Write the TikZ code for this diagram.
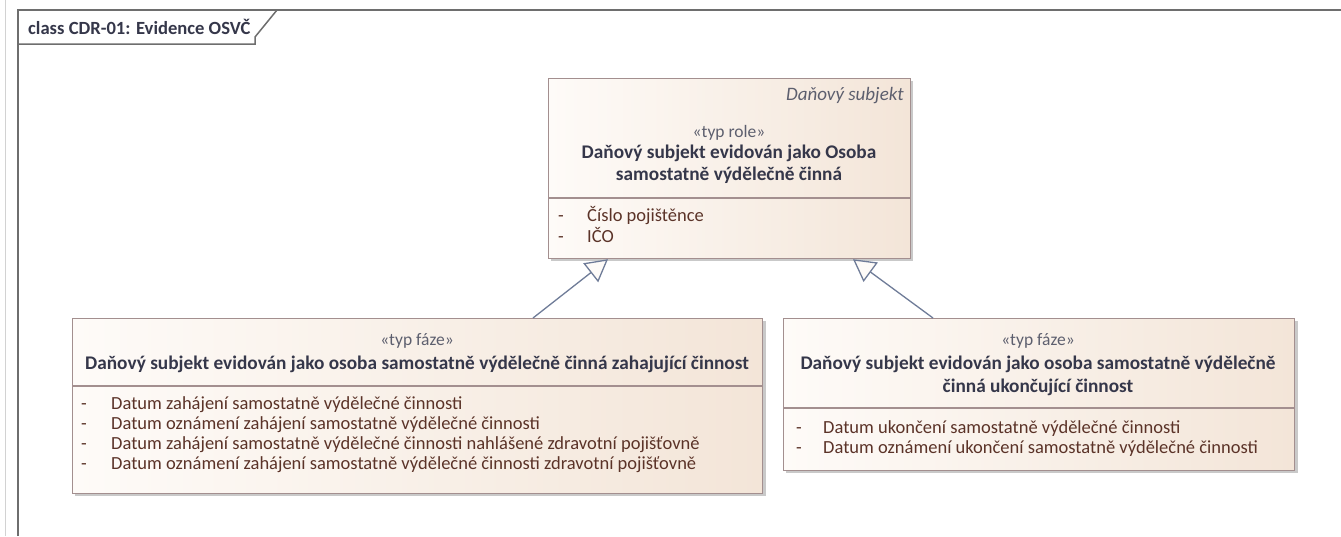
\documentclass[tikz,border=0pt]{standalone}
\usepackage{fontspec}
\setmainfont{Carlito}
\usetikzlibrary{calc,arrows.meta}
\definecolor{bordc}{HTML}{A38F8F}
\definecolor{fillL}{HTML}{FEFBF8}
\definecolor{fillR}{HTML}{F3E5D8}
\definecolor{shad}{HTML}{C9C9C9}
\definecolor{namec}{HTML}{35374A}
\definecolor{attrc}{HTML}{5B3328}
\definecolor{linec}{HTML}{6F7C98}
\definecolor{framec}{HTML}{6E6E6E}
\tikzset{
  clsbox/.style={draw=bordc, line width=1.2pt, shading=axis, left color=fillL, right color=fillR, shading angle=90, anchor=north west, inner sep=0pt},
  sep/.style={draw=bordc, line width=1.2pt},
  shadowbox/.style={fill=shad, draw=none},
  stereo/.style={font=\fontsize{17.5}{20}\selectfont, text=namec!80, inner sep=0pt},
  cname/.style={font=\fontsize{19.3}{22}\selectfont\bfseries, text=namec, inner sep=0pt, align=center},
  attr/.style={font=\fontsize{18.5}{21}\selectfont, text=attrc, inner sep=0pt, anchor=west, text height=12pt, text depth=4pt},
  gen/.style={draw=linec, line width=1.3pt, -{Triangle[open, length=22pt, width=24pt, fill=fillL]}},
}
\begin{document}
\begin{tikzpicture}[x=1pt,y=-1pt]
\useasboundingbox (0,0) rectangle (1341,536);
\fill[white] (0,0) rectangle (1341,536);
% window edge
\draw[gray!35, line width=1pt] (5,0) -- (5,536);
% frame
\draw[framec, line width=1.8pt] (18,536) -- (18,10) -- (1341,10);
\draw[framec, line width=1.5pt] (18,44) -- (255,44) -- (255,37) -- (277,10);
\node[anchor=west, inner sep=0pt, font=\fontsize{18.6}{20}\selectfont\bfseries, text=namec] (title) at (28,27) {class CDR-01: Evidence OSVČ};

% top class
\fill[shadowbox] (551,81) rectangle (913,261);
\node[clsbox, minimum width=362pt, minimum height=180pt] (top) at (548,78) {};
\draw[sep] (548,198) -- (910,198);
\node[anchor=east, inner sep=0pt, font=\fontsize{19}{21}\selectfont\itshape, text=namec!80] (tsup) at (904,96) {Daňový subjekt};
\node[stereo] (tst) at (729,133) {«typ role»};
\node[cname] (tn1) at (729,153) {Daňový subjekt evidován jako Osoba};
\node[cname] (tn2) at (729,175) {samostatně výdělečně činná};
\node[attr] (td1) at (558,217) {-};
\node[attr] (ta1) at (587,217) {Číslo pojištěnce};
\node[attr] (td2) at (558,238) {-};
\node[attr] (ta2) at (587,238) {IČO};

% left class
\fill[shadowbox] (75,321) rectangle (766,496);
\node[clsbox, minimum width=690pt, minimum height=175pt] (left) at (72,318) {};
\draw[sep] (72,386) -- (762,386);
\node[stereo] (lst) at (417,341) {«typ fáze»};
\node[cname] (ln1) at (417,364) {Daňový subjekt evidován jako osoba samostatně výdělečně činná zahajující činnost};
\node[attr] (ld1) at (81,405) {-};
\node[attr] (la1) at (111,405) {Datum zahájení samostatně výdělečné činnosti};
\node[attr] (ld2) at (81,425) {-};
\node[attr] (la2) at (111,425) {Datum oznámení zahájení samostatně výdělečné činnosti};
\node[attr] (ld3) at (81,445) {-};
\node[attr] (la3) at (111,445) {Datum zahájení samostatně výdělečné činnosti nahlášené zdravotní pojišťovně};
\node[attr] (ld4) at (81,465) {-};
\node[attr] (la4) at (111,465) {Datum oznámení zahájení samostatně výdělečné činnosti zdravotní pojišťovně};

% right class
\fill[shadowbox] (786,321) rectangle (1298,473);
\node[clsbox, minimum width=511pt, minimum height=152pt] (right) at (783,318) {};
\draw[sep] (783,408) -- (1294,408);
\node[stereo] (rst) at (1038,341) {«typ fáze»};
\node[cname] (rn1) at (1038,364) {Daňový subjekt evidován jako osoba samostatně výdělečně};
\node[cname] (rn2) at (1038,387) {činná ukončující činnost};
\node[attr] (rd1) at (796,429) {-};
\node[attr] (ra1) at (823,429) {Datum ukončení samostatně výdělečné činnosti};
\node[attr] (rd2) at (796,449) {-};
\node[attr] (ra2) at (823,449) {Datum oznámení ukončení samostatně výdělečné činnosti};

% generalizations
\draw[gen] ($(left.north west)+(461,0)$) -- ($(top.south west)+(60,0)$);
\draw[gen] ($(right.north west)+(150,0)$) -- ($(top.south west)+(305,0)$);
\end{tikzpicture}
\end{document}
